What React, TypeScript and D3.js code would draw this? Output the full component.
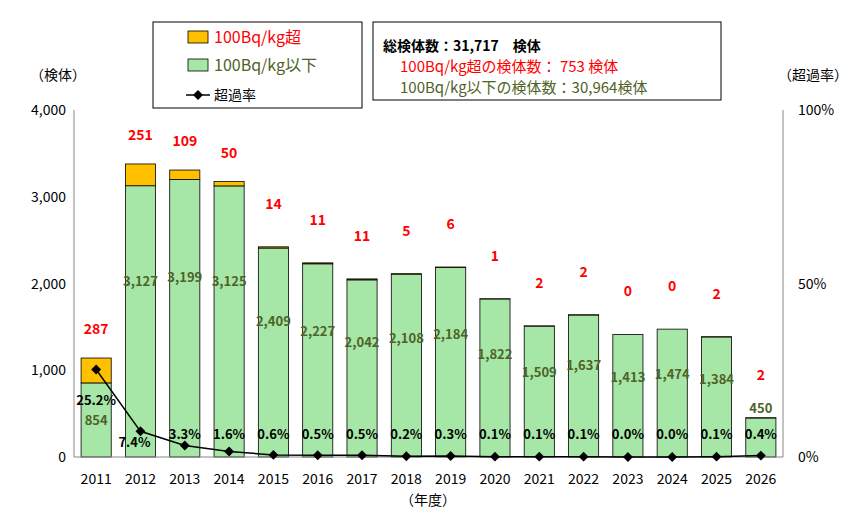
import * as d3 from 'd3'

const years = ['2011','2012','2013','2014','2015','2016','2017','2018','2019','2020','2021','2022','2023','2024','2025','2026']
const below = [854,3127,3199,3125,2409,2227,2042,2108,2184,1822,1509,1637,1413,1474,1384,450]
const over = [287,251,109,50,14,11,11,5,6,1,2,2,0,0,2,2]
const rates = [25.2,7.4,3.3,1.6,0.6,0.5,0.5,0.2,0.3,0.1,0.1,0.1,0.0,0.0,0.1,0.4]
const countTicks = [0,1000,2000,3000,4000]
const rateTicks = [0,50,100]

const W = 856, H = 526
const left = 74, right = 783, top = 110, bottom = 457
const font = '"MS Gothic","Noto Sans CJK JP",sans-serif'
const GREEN = '#A6E6A6', YELLOW = '#FFC000', OLIVE = '#4F6228', RED = '#FF0000'

export default () => {
  const x = d3.scaleBand().domain(years).range([left, right]).paddingInner(0.32).paddingOuter(0.16)
  const y = d3.scaleLinear().domain([0, 4000]).range([bottom, top])
  const yr = d3.scaleLinear().domain([0, 100]).range([bottom, top])
  const cx = (i: number) => (x(years[i]) as number) + x.bandwidth() / 2
  const line = d3.line<number>().x((_, i) => cx(i)).y(d => yr(d))

  return (
    <svg width={W} height={H} style={{ position: 'absolute', left: 0, top: 0, background: '#fff' }} fontFamily={font}>
      {countTicks.map(t => (
        <text key={t} x={left - 8} y={y(t) + 5} textAnchor="end" fontSize={14}>{d3.format(',')(t)}</text>
      ))}
      {rateTicks.map(t => (
        <text key={t} x={right + 15} y={yr(t) + 5} fontSize={14}>{t}%</text>
      ))}
      <line x1={left} x2={left} y1={top} y2={bottom} stroke="#888" />
      <line x1={right} x2={right} y1={top} y2={bottom} stroke="#888" />
      {years.map((yv, i) => {
        const bx = x(yv) as number, bw = x.bandwidth()
        const gTop = y(below[i]), oTop = y(below[i] + over[i])
        const gy = i === 0 ? bottom - (bottom - gTop) * 0.5 : i === 15 ? gTop - 10 : bottom - (bottom - gTop) * 0.65
        return (
          <g key={yv}>
            <rect x={bx} y={gTop} width={bw} height={bottom - gTop} fill={GREEN} stroke="#000" strokeWidth={0.8} />
            {over[i] > 0 && <rect x={bx} y={oTop} width={bw} height={gTop - oTop} fill={YELLOW} stroke="#000" strokeWidth={0.8} />}
            <text x={cx(i)} y={oTop - (i < 4 ? 24 : 38)} textAnchor="middle" fontSize={14} fontWeight="bold" fill={RED}>{d3.format(',')(over[i])}</text>
            <text x={cx(i)} y={gy + 5} textAnchor="middle" fontSize={13} fontWeight="bold" fill={OLIVE}>{d3.format(',')(below[i])}</text>
            <text x={cx(i)} y={bottom + 27} textAnchor="middle" fontSize={14}>{yv}</text>
          </g>
        )
      })}
      <line x1={left} x2={right} y1={bottom} y2={bottom} stroke="#888" />
      <path d={line(rates) ?? ''} fill="none" stroke="#000" strokeWidth={1.5} />
      {rates.map((r, i) => (
        <g key={i}>
          <rect x={cx(i) - 3.5} y={yr(r) - 3.5} width={7} height={7} transform={`rotate(45 ${cx(i)} ${yr(r)})`} fill="#000" />
          <text x={i === 1 ? cx(i) - 6 : cx(i)} y={i === 0 ? yr(r) + 35 : i === 1 ? 447 : 439} textAnchor="middle" fontSize={13} fontWeight="bold">{r.toFixed(1)}%</text>
        </g>
      ))}
      <text x={30} y={80} fontSize={14}>（検体）</text>
      <text x={778} y={80} fontSize={14}>（超過率）</text>
      <text x={428} y={505} textAnchor="middle" fontSize={14}>（年度）</text>
      <rect x={153} y={22} width={209} height={86} fill="#fff" stroke="#000" />
      <rect x={188} y={31} width={20} height={12} fill={YELLOW} stroke="#000" strokeWidth={0.8} />
      <text x={214} y={43} fontSize={16} fill={RED}>100Bq/kg超</text>
      <rect x={188} y={59} width={20} height={12} fill={GREEN} stroke="#000" strokeWidth={0.8} />
      <text x={214} y={71} fontSize={16} fill={OLIVE}>100Bq/kg以下</text>
      <line x1={186} x2={210} y1={95} y2={95} stroke="#000" strokeWidth={1.5} />
      <rect x={194.5} y={91.5} width={7} height={7} transform="rotate(45 198 95)" fill="#000" />
      <text x={214} y={100} fontSize={14}>超過率</text>
      <rect x={373} y={22} width={348} height={78} fill="#fff" stroke="#000" />
      <text x={383} y={51} fontSize={14} fontWeight="bold">総検体数：31,717　検体</text>
      <text x={400} y={72} fontSize={15} fill={RED}>100Bq/kg超の検体数： 753 検体</text>
      <text x={400} y={93} fontSize={15} fill={OLIVE}>100Bq/kg以下の検体数：30,964検体</text>
    </svg>
  )
}
